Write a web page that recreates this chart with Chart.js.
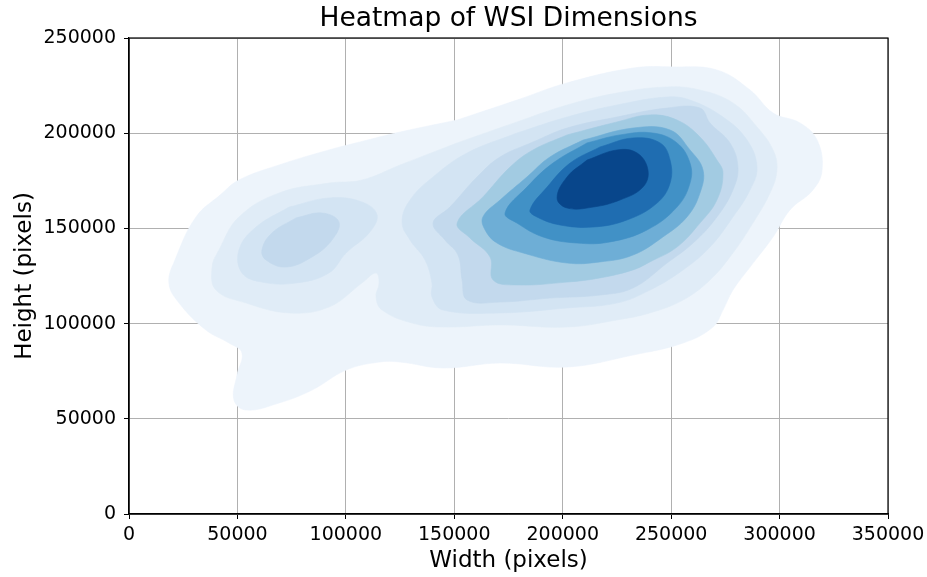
<!DOCTYPE html>
<html><head><meta charset="utf-8">
<script src="https://cdn.jsdelivr.net/npm/chart.js@4/dist/chart.umd.min.js"></script>
<style>html,body{margin:0;padding:0;background:#fff}</style>
</head><body>
<canvas id="c" width="927" height="577" style="width:927px;height:577px;display:block"></canvas>
<script>
// ---- tick labels ----
const xTicks = [0, 50000, 100000, 150000, 200000, 250000, 300000, 350000];
const yTicks = [0, 50000, 100000, 150000, 200000, 250000];

// ---- contour level colours (Blues), outermost -> innermost ----
const levelColors = ['#edf4fb', '#e0ecf7', '#d3e4f3', '#c3d9ed', '#a2cbe2', '#6eaed6', '#4191c6', '#1f6db1', '#08468b'];

// ---- filled KDE contour outlines, [width, height] in pixels of the WSI ----
const level1 = [[151300,206900],[178900,217400],[202000,226400],[232400,234200],[250900,234800],[271100,233200],[286400,222700],[297000,210600],[309400,205400],[317300,196400],[319600,180700],[315400,170200],[304800,159700],[297000,145500],[286400,129700],[278500,117600],[273900,107100],[269300,98200],[255500,89800],[232400,83500],[202000,77200],[171100,79300],[144800,76700],[125000,79800],[115300,79800],[100100,75600],[84400,65100],[69200,58300],[54000,54600],[48400,59900],[49800,73000],[52100,84600],[46100,89800],[35500,96600],[23100,110800],[18400,121300],[21200,133400],[30900,156000],[42000,167500],[50700,175400],[69200,183300],[92200,191200],[106500,195400],[125000,200600]];
const level2 = [[151300,194900],[178900,205900],[202000,214800],[225000,221100],[248100,224300],[263300,222700],[278500,215900],[289600,203300],[297000,191200],[298800,180700],[295600,168600],[287700,152800],[278500,137100],[267900,122900],[255500,112400],[240200,105600],[225000,101900],[202000,98200],[171100,99300],[144800,98200],[130500,100300],[116700,107100],[113900,114000],[115300,121300],[113900,126600],[107400,121300],[92200,108700],[73800,105600],[54000,110800],[40100,117600],[38300,129700],[41500,138700],[50700,156000],[69200,168600],[92200,173800],[107400,175400],[125000,183300]];
const level3Left = [[73800,161200],[92200,166000],[107400,163900],[114400,157000],[110700,147600],[100100,137100],[92200,126600],[77000,121300],[61300,121800],[52100,126600],[50700,138700],[58600,150700]];
const level3Right = [[178900,200100],[202000,208500],[225000,214800],[248100,219000],[258700,217400],[273900,208500],[285000,196400],[289600,182200],[286400,170200],[278500,156000],[267900,140200],[255500,128200],[240200,117600],[225000,110800],[202000,108200],[171100,105600],[144800,107100],[139700,114000],[139700,121300],[136500,133400],[129600,143900],[125900,153400],[129600,164900],[140200,177000],[155900,189600]];
const level4Left = [[77000,155500],[89000,158100],[96800,153400],[93600,143900],[84400,135000],[72400,129700],[63200,133400],[61300,138700],[65900,147600]];
const level4Right = [[186300,195400],[202000,202700],[225000,208500],[248100,213200],[263300,213200],[267900,205400],[277100,194900],[280800,182200],[278500,170200],[271100,156000],[260100,142300],[248100,131800],[232400,118700],[217200,115000],[194100,113400],[171100,111300],[155900,112400],[153600,122900],[151700,136000],[145700,143900],[140200,152800],[148000,161200],[160500,177000],[171100,187500]];
const level5 = [[202000,199100],[225000,205900],[240200,209600],[252700,206900],[263300,198000],[271100,185900],[273900,179100],[271100,164900],[263300,152800],[252700,140200],[240200,132400],[232400,128200],[217200,124000],[202000,121800],[178900,120300],[167900,122900],[166500,135000],[157200,145000],[151300,152800],[163200,166500],[175700,182200],[186300,191200]];
const level6 = [[209400,196400],[232400,202700],[249500,201700],[258700,191200],[264700,180700],[263300,168600],[257300,156000],[246200,145500],[232400,136000],[217200,132400],[202000,131800],[181700,137100],[169700,142300],[164200,149200],[163200,156000],[171100,164900],[183500,177000],[194100,187500]];
const level7 = [[211200,194900],[226400,199100],[241600,200100],[252700,194900],[258700,184300],[258700,173800],[252700,161200],[238900,149200],[221800,142900],[206600,142300],[190900,145500],[178900,152800],[173400,158100],[183500,171700],[195500,184300]];
const level8 = [[217200,192800],[232400,197500],[244900,194900],[249500,185900],[249500,173800],[243500,163300],[229600,154400],[214000,150700],[198700,151800],[188100,156000],[184900,159700],[192800,171700],[203400,184300]];
const level9 = [[211200,185900],[225000,191200],[234300,189600],[239300,180700],[237000,171700],[226400,164900],[214000,161200],[202000,160700],[197400,166000],[202000,177000]];

const contours = [
  {level: 1, pts: level1},
  {level: 2, pts: level2},
  {level: 3, pts: level3Left},
  {level: 3, pts: level3Right},
  {level: 4, pts: level4Left},
  {level: 4, pts: level4Right},
  {level: 5, pts: level5},
  {level: 6, pts: level6},
  {level: 7, pts: level7},
  {level: 8, pts: level8},
  {level: 9, pts: level9}
];

Chart.defaults.font.family = "'DejaVu Sans', sans-serif";
Chart.defaults.color = '#000';

const datasets = contours.map(c => {
  const col = levelColors[c.level - 1];
  return {
    data: c.pts.concat([c.pts[0]]).map(p => ({x: p[0], y: p[1]})),
    showLine: true,
    fill: 'shape',
    backgroundColor: col,
    borderColor: col,
    borderWidth: 0.6,
    pointRadius: 0,
    pointHoverRadius: 0,
    tension: 0.4,
    order: 20 - c.level
  };
});

const frame = {
  id: 'frame',
  afterDraw(chart) {
    const {ctx, chartArea: a} = chart;
    ctx.save();
    ctx.strokeStyle = '#000';
    ctx.lineWidth = 1.2;
    ctx.strokeRect(a.left, a.top, a.right - a.left, a.bottom - a.top);
    ctx.restore();
  }
};

new Chart(document.getElementById('c'), {
  type: 'scatter',
  data: {datasets},
  plugins: [frame],
  options: {
    responsive: false,
    animation: false,
    devicePixelRatio: 1,
    layout: {padding: {left: 0, right: 39, top: 0, bottom: 0}},
    plugins: {
      legend: {display: false},
      tooltip: {enabled: false},
      title: {
        display: true,
        fullSize: false,
        text: 'Heatmap of WSI Dimensions',
        color: '#000',
        font: {size: 26.5, weight: 'normal'},
        padding: {top: 3, bottom: 3.2}
      }
    },
    scales: {
      x: {
        type: 'linear', position: 'bottom', min: 0, max: 350000, z: 1,
        afterBuildTicks: s => { s.ticks = xTicks.map(v => ({value: v})); },
        afterFit: s => { s.height = 63; s.paddingLeft = 0; s.paddingRight = 0; },
        ticks: {autoSkip: false, maxRotation: 0, padding: 5, font: {size: 19}, color: '#000', callback: v => String(v)},
        grid: {color: '#b0b0b0', lineWidth: 1, tickLength: 5, tickColor: '#000'},
        border: {color: '#000', width: 1.2},
        title: {display: true, text: 'Width (pixels)', color: '#000', font: {size: 23}, padding: {top: 0, bottom: 2}}
      },
      y: {
        type: 'linear', position: 'left', min: 0, max: 250000, z: 1,
        afterBuildTicks: s => { s.ticks = yTicks.map(v => ({value: v})); },
        afterFit: s => { s.width = 129; s.paddingTop = 0; s.paddingBottom = 0; },
        ticks: {autoSkip: false, padding: 8, font: {size: 19}, color: '#000', callback: v => String(v)},
        grid: {color: '#b0b0b0', lineWidth: 1, tickLength: 5, tickColor: '#000'},
        border: {color: '#000', width: 1.2},
        title: {display: true, text: 'Height (pixels)', color: '#000', font: {size: 23}, padding: {top: 11, bottom: 0}}
      }
    }
  }
});
</script>
</body></html>
